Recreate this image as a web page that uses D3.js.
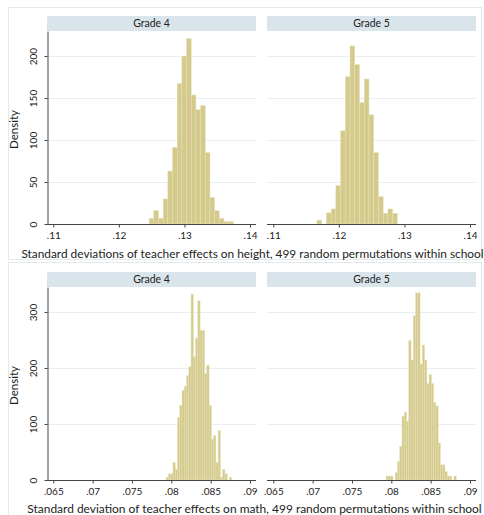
<!DOCTYPE html>
<html>
<head>
<meta charset="utf-8">
<script src="https://cdn.jsdelivr.net/npm/d3@7"></script>
<style>
  body { margin: 0; background: #fff; }
  svg { display: block; font-family: Lato, "Open Sans", sans-serif; }
</style>
</head>
<body>
<svg id="chart" width="484" height="515"></svg>
<script>
const gradeLabels = ["Grade 4", "Grade 5"];

// Height: first bin edge, bin width, density per bin
const g4HeightStart = 0.12462, g4HeightWidth = 0.000713;
const g4Height = [6.7, 15.9, 6.7, 29.8, 63, 91, 167, 200, 220.6, 153.6, 136, 141, 85, 31.7, 15.9, 6.7, 2.8, 2.8];
const g5HeightStart = 0.11665, g5HeightWidth = 0.000722;
const g5Height = [4.5, 0, 13.2, 17.9, 45.6, 111, 175.4, 212, 189.7, 144.4, 172.6, 130, 85, 32.5, 12.7, 17.9, 12.7];
const heightTicksX = [0.11, 0.12, 0.13, 0.14];
const heightTicksY = [0, 50, 100, 150, 200];
const heightTitle = "Standard deviations of teacher effects on height, 499 random permutations within school";

// Math: both grades share the bin grid
const mathStart = 0.07935, mathWidth = 0.000287;
const g4Math = [5, 11, 11, 31, 19, 112, 133, 160, 167, 186, 202, 332, 220, 253, 320, 267, 267, 190, 205, 133, 73, 79, 31, 88, 5, 19, 11, 0, 5];
const g5Math = [7, 7, 7, 0, 13, 33, 60, 114, 121, 105, 249, 214, 293, 334, 334, 207, 241, 214, 172, 188, 172, 138, 132, 66, 27, 27, 15, 7, 7, 0, 7];
const mathTicksX = [0.065, 0.07, 0.075, 0.08, 0.085, 0.09];
const mathTicksY = [0, 100, 200, 300];
const mathTitle = "Standard deviation of teacher effects on math, 499 random permutations within school";

const svg = d3.select("#chart");
const panelX = [[47, 256], [267, 476]];
const fmt = d => String(d).replace(/^0/, "");

function drawGraph(cfg) {
    const g = svg.append("g");
    const plotTop = cfg.stripTop + 15;
    const y = d3.scaleLinear().domain([0, cfg.yMax]).range([cfg.baseline, plotTop]);

    // outer frame
    g.append("rect")
        .attr("x", 8.5).attr("y", cfg.frameTop + 0.5)
        .attr("width", 473).attr("height", cfg.frameH)
        .attr("fill", "none").attr("stroke", "#e3eaee");

    cfg.series.forEach((s, i) => {
        const [x0, x1] = panelX[i];
        const x = d3.scaleLinear().domain(cfg.xDomain).range([x0 + 6.3, x1 - 6]);
        const p = g.append("g");

        // strip
        p.append("rect")
            .attr("x", x0).attr("y", cfg.stripTop)
            .attr("width", x1 - x0).attr("height", 15)
            .attr("fill", "#dae5eb");
        p.append("text")
            .attr("x", (x0 + x1) / 2).attr("y", cfg.stripTop + 7.5)
            .attr("dy", "0.35em").attr("text-anchor", "middle")
            .attr("font-size", 10.5).attr("fill", "#222")
            .text(gradeLabels[i]);

        // gridlines
        p.append("g").selectAll("line")
            .data(cfg.ticksY.filter(d => d > 0))
            .join("line")
            .attr("x1", x0).attr("x2", x1)
            .attr("y1", d => y(d) + 0.5).attr("y2", d => y(d) + 0.5)
            .attr("stroke", "#e8eff2");

        // bars
        const bins = s.values.map((v, k) => ({ a: s.start + k * s.width, b: s.start + (k + 1) * s.width, v }));
        p.append("g").selectAll("rect")
            .data(bins.filter(d => d.v > 0))
            .join("rect")
            .attr("x", d => x(d.a))
            .attr("width", d => x(d.b) - x(d.a))
            .attr("y", d => y(d.v))
            .attr("height", d => y(0) - y(d.v))
            .attr("fill", "#d3ca8c")
            .attr("stroke", "#e7e0b8")
            .attr("stroke-width", 0.5);

        // x axis
        p.append("line")
            .attr("x1", x0).attr("x2", x1)
            .attr("y1", cfg.baseline + 0.5).attr("y2", cfg.baseline + 0.5)
            .attr("stroke", "#444");
        const ax = p.append("g")
            .attr("transform", `translate(0,${cfg.baseline + 0.5})`)
            .call(d3.axisBottom(x).tickValues(cfg.ticksX).tickSize(3).tickFormat(fmt));
        ax.select(".domain").remove();
        ax.selectAll("line").attr("stroke", "#444");
        ax.selectAll("text")
            .attr("font-family", "Lato, sans-serif")
            .attr("font-size", 10).attr("fill", "#222").attr("y", 7);
    });

    // y axis on the left panel only
    const ay = g.append("g")
        .attr("transform", `translate(${panelX[0][0] + 0.5},0)`)
        .call(d3.axisLeft(y).tickValues(cfg.ticksY).tickSize(3).tickSizeOuter(0));
    ay.select(".domain").attr("stroke", "#444");
    ay.selectAll("line").attr("stroke", "#444");
    ay.selectAll("text")
        .attr("x", 0).attr("y", 0).attr("dy", 0)
        .attr("transform", "translate(-11,0) rotate(-90)")
        .attr("text-anchor", "middle")
        .attr("font-family", "Lato, sans-serif")
        .attr("font-size", 10).attr("fill", "#222");

    // axis titles
    g.append("text")
        .attr("transform", `translate(18,${(plotTop + cfg.baseline) / 2 + 2}) rotate(-90)`)
        .attr("text-anchor", "middle")
        .attr("font-size", 11.5).attr("fill", "#222")
        .text("Density");

    const t = g.append("text")
        .attr("x", cfg.titleX).attr("y", cfg.titleY)
        .attr("text-anchor", "middle")
        .attr("font-size", 11.5).attr("fill", "#222")
        .text(cfg.title);
    const len = t.node().getComputedTextLength();
    t.attr("font-size", 11.5 * cfg.titleW / len);
}

drawGraph({
    frameTop: 7, frameH: 252, stripTop: 16, baseline: 224, yMax: 229.8,
    xDomain: [0.11, 0.14], ticksX: heightTicksX, ticksY: heightTicksY,
    series: [
        { start: g4HeightStart, width: g4HeightWidth, values: g4Height },
        { start: g5HeightStart, width: g5HeightWidth, values: g5Height }
    ],
    title: heightTitle, titleX: 252.5, titleY: 258, titleW: 463
});

drawGraph({
    frameTop: 262, frameH: 260, stripTop: 272, baseline: 480, yMax: 344.6,
    xDomain: [0.065, 0.09], ticksX: mathTicksX, ticksY: mathTicksY,
    series: [
        { start: mathStart, width: mathWidth, values: g4Math },
        { start: mathStart, width: mathWidth, values: g5Math }
    ],
    title: mathTitle, titleX: 254.5, titleY: 513, titleW: 455
});
</script>
</body>
</html>
